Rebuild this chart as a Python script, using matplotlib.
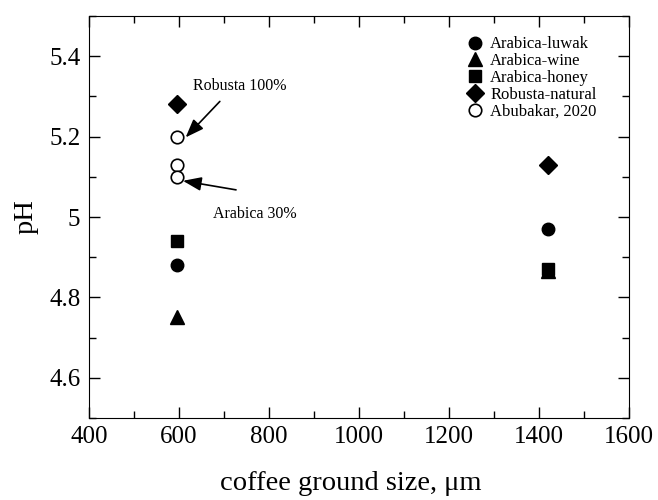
import matplotlib
matplotlib.use("Agg")
import matplotlib.pyplot as plt
from matplotlib.ticker import MultipleLocator, FuncFormatter

plt.rcParams['font.family'] = ['Liberation Serif', 'DejaVu Serif']
plt.rcParams['mathtext.fontset'] = 'stix'

# Data
sizes = [595, 1420]
luwak = [4.88, 4.97]
wine = [4.75, 4.865]
honey = [4.94, 4.87]
robusta = [5.28, 5.13]
abu_x = [595, 595, 595]
abu_y = [5.20, 5.13, 5.10]

fig = plt.figure(figsize=(6.58, 5.0), dpi=100)
ax = fig.add_axes([0.135, 0.164, 0.821, 0.804])

ax.plot(sizes, luwak, 'o', color='black', ms=9, ls='none', label='Arabica-luwak')
ax.plot(sizes, wine, '^', color='black', ms=10, ls='none', label='Arabica-wine')
ax.plot(sizes, honey, 's', color='black', ms=8.5, ls='none', label='Arabica-honey')
ax.plot(sizes, robusta, 'D', color='black', ms=9, ls='none', label='Robusta-natural')
ax.plot(abu_x, abu_y, 'o', mfc='white', mec='black', mew=1.2, ms=9, ls='none', label='Abubakar, 2020')

arrow = dict(arrowstyle='-|>,head_length=0.8,head_width=0.3', color='black', lw=1.2,
             mutation_scale=14, shrinkA=0, shrinkB=0)
ax.annotate('', xy=(615, 5.198), xytext=(691, 5.2875), arrowprops=arrow)
ax.annotate('', xy=(609, 5.09), xytext=(727, 5.0675), arrowprops=arrow)
ax.text(631, 5.325, 'Robusta 100%', fontsize=11.5, va='center', ha='left')
ax.text(675, 5.008, 'Arabica 30%', fontsize=11.5, va='center', ha='left')

ax.set_xlim(400, 1600)
ax.set_ylim(4.5, 5.5)
ax.xaxis.set_major_locator(MultipleLocator(200))
ax.xaxis.set_minor_locator(MultipleLocator(100))
ax.yaxis.set_major_locator(MultipleLocator(0.2))
ax.yaxis.set_minor_locator(MultipleLocator(0.1))
ax.yaxis.set_major_formatter(FuncFormatter(lambda v, p: ('%g' % round(v, 2))))
ax.tick_params(which='both', direction='in', top=True, right=True, labelsize=18, pad=6)
ax.tick_params(which='major', length=8, width=1)
ax.tick_params(which='minor', length=5, width=1)

ax.set_xlabel('coffee ground size, μm', fontsize=20.5)
ax.xaxis.set_label_coords(0.485, -0.132)
ax.set_ylabel('pH', fontsize=20.5, labelpad=8)

ax.legend(loc='upper right', bbox_to_anchor=(0.955, 0.97), frameon=False, fontsize=12,
          handletextpad=0.4, labelspacing=0.05, borderaxespad=0.3, handlelength=1.0,
          borderpad=0.2)

fig.savefig('out.png', dpi=100)
